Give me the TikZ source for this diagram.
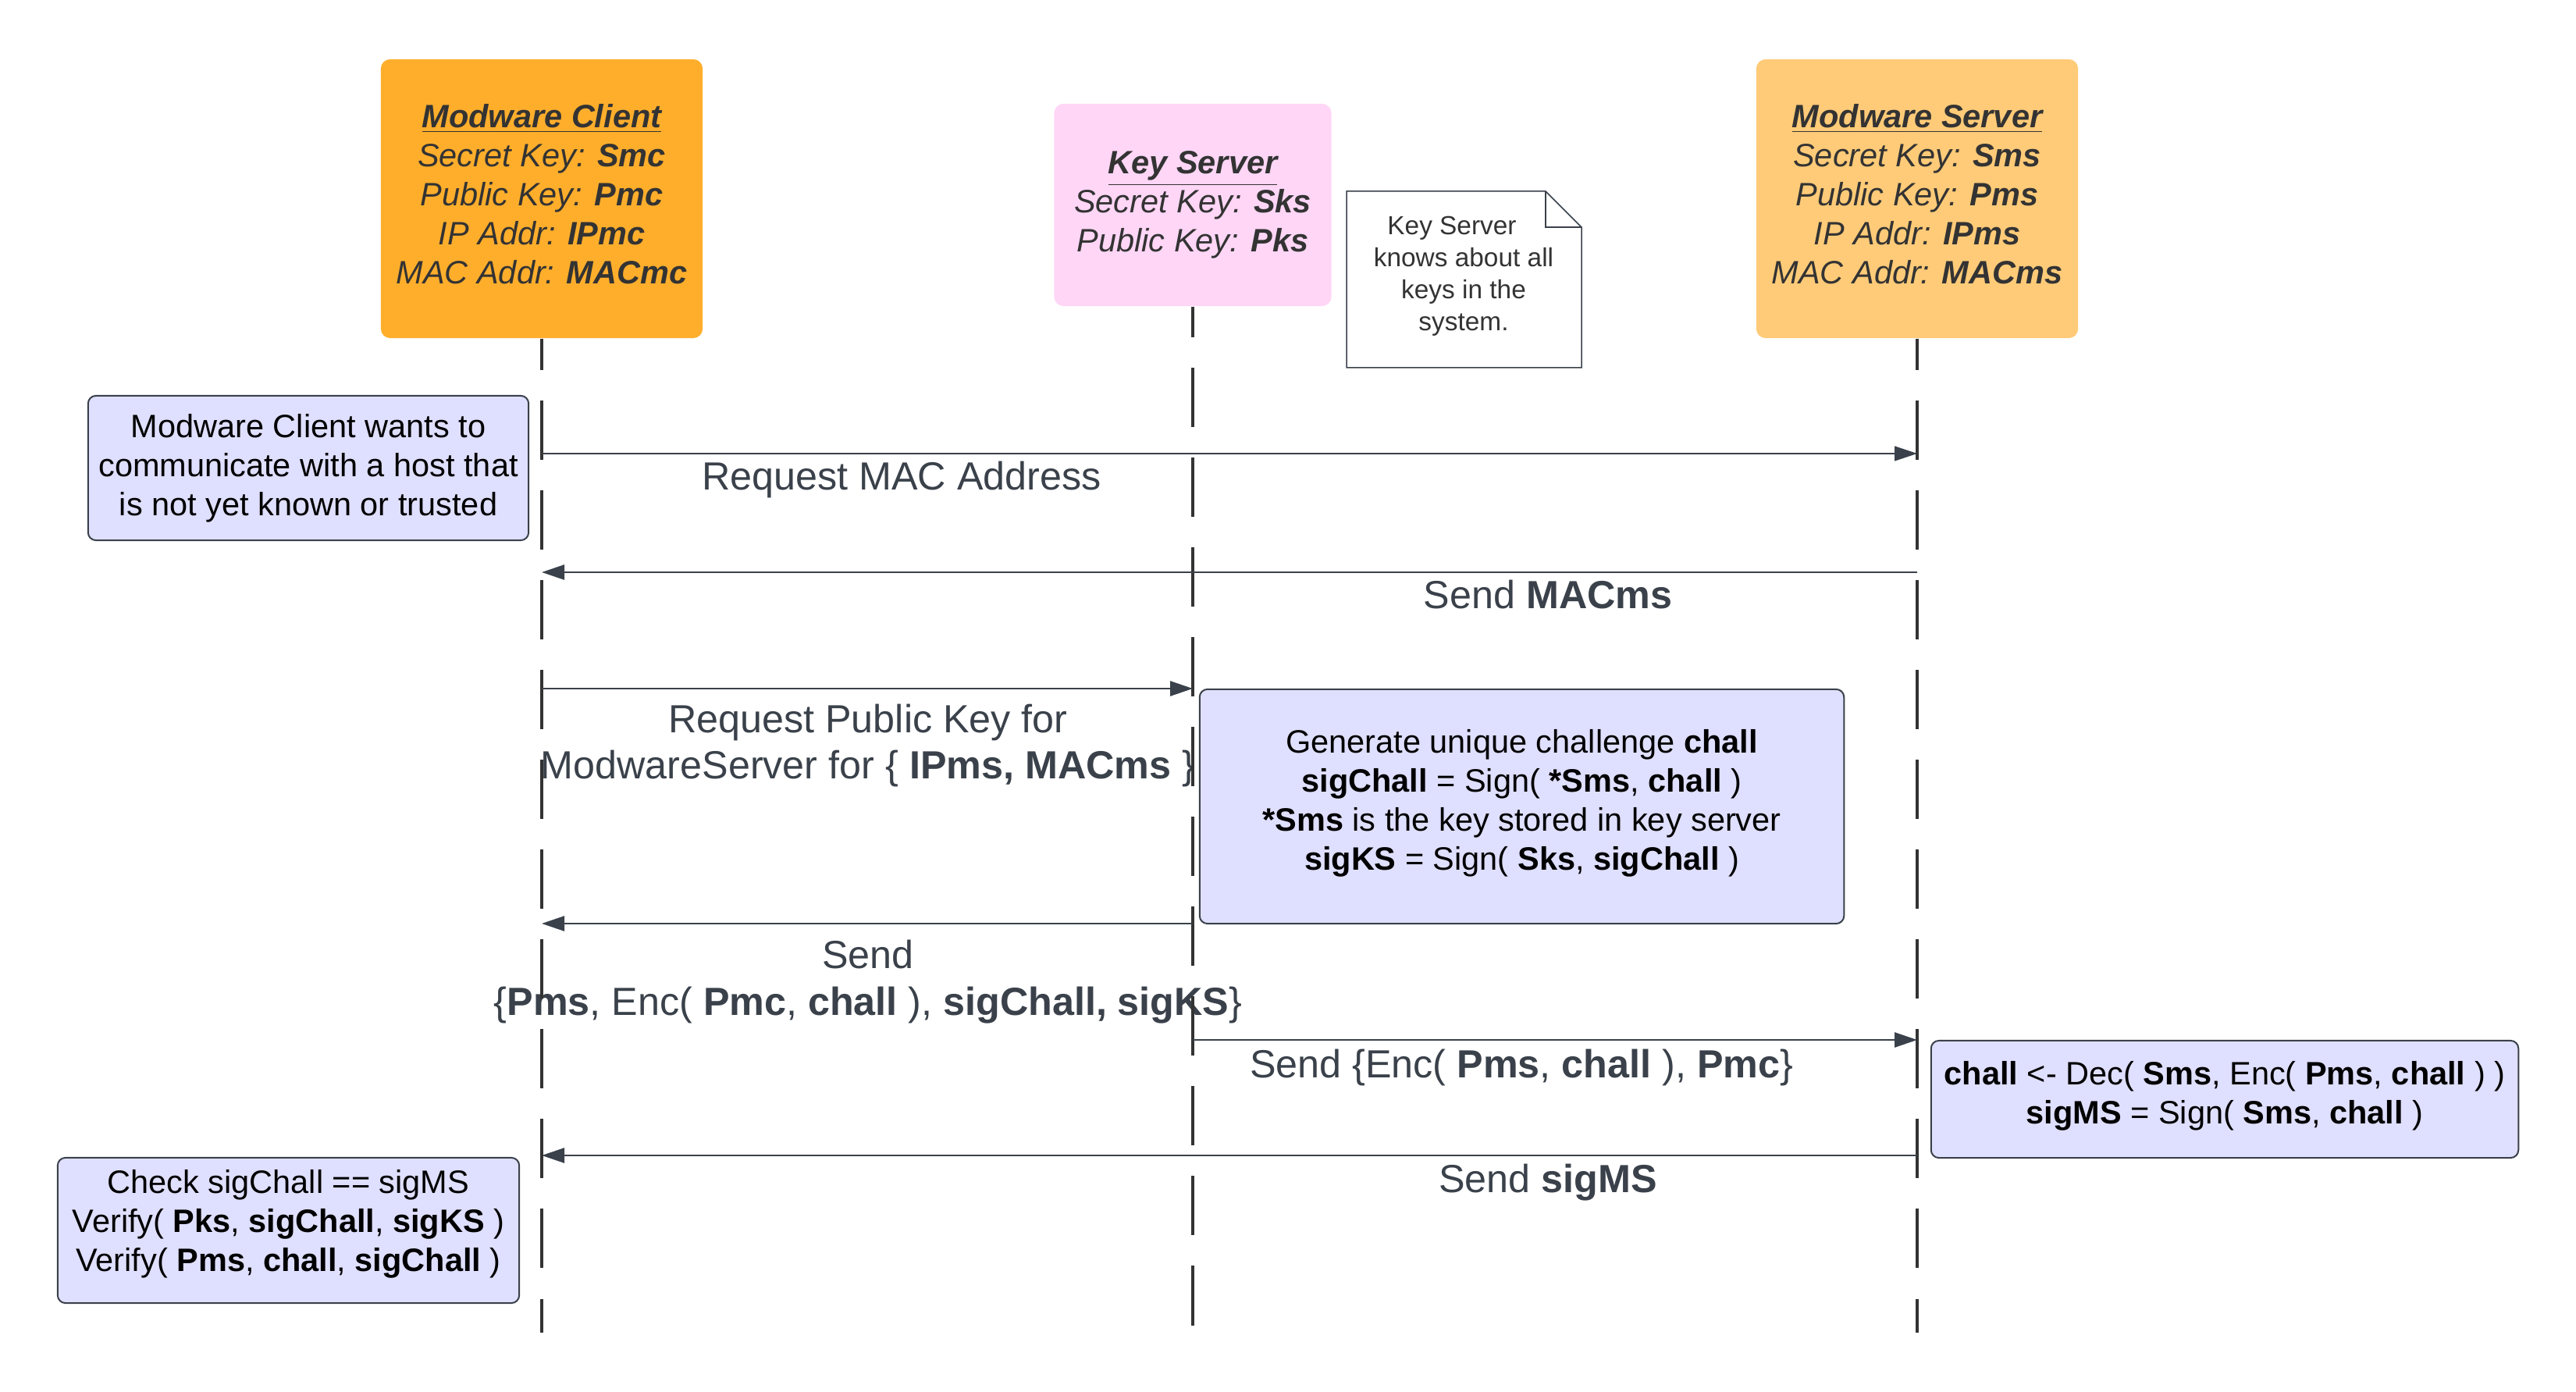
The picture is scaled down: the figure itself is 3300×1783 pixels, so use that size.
\documentclass[tikz,border=0pt]{standalone}
\usepackage{fontspec}
\setmainfont{Liberation Sans}
\usetikzlibrary{arrows.meta}
\definecolor{cliorange}{HTML}{FFAE2C}
\definecolor{srvorange}{HTML}{FFCB78}
\definecolor{kspink}{HTML}{FFD6F6}
\definecolor{lav}{HTML}{DFDFFF}
\definecolor{linec}{HTML}{3A414A}
\definecolor{textc}{HTML}{333333}
\newcommand\boxfnt{\fontsize{11.8}{14.2}\selectfont}
\newcommand\labfnt{\fontsize{14.3}{17}\selectfont}
\newcommand\notefnt{\fontsize{9.5}{11.6}\selectfont}
\begin{document}
\begin{tikzpicture}[x=0.01cm,y=-0.01cm,
  actor/.style={rounded corners=0.12cm, inner sep=0pt},
  actortxt/.style={inner sep=0pt, text=textc, align=center, font=\boxfnt\itshape},
  lbox/.style={draw=linec, line width=0.02cm, fill=lav, rounded corners=0.1cm, inner sep=0pt},
  lboxtxt/.style={align=center, font=\boxfnt, text=black, inner sep=0pt},
  lab/.style={text=linec, font=\labfnt, align=center, inner sep=0pt},
  life/.style={draw=textc, line width=0.035cm, dash pattern=on 0.76cm off 0.39cm},
  msg/.style={draw=linec, line width=0.025cm, -{Triangle[length=0.29cm,width=0.19cm]}},
  notetxt/.style={text=textc, font=\notefnt, align=center, inner sep=0pt}]
\useasboundingbox (0,0) rectangle (3300,1783);
\fill[white] (0,0) rectangle (3300,1783);

% actors
\node[actor, fill=cliorange, minimum width=4.12cm, minimum height=3.57cm] (client) at (694,254.5) {};
\node[actortxt] (clienttxt) at (694,248.5)
  {\underline{\textbf{Modware Client}}\\Secret Key: \textbf{Smc}\\Public Key: \textbf{Pmc}\\IP Addr: \textbf{IPmc}\\MAC Addr: \textbf{MACmc}};
\node[actor, fill=kspink, minimum width=3.55cm, minimum height=2.59cm] (ks) at (1528,262.5) {};
\node[actortxt] (kstxt) at (1528,262.5)
  {\underline{\textbf{Key Server}}\\Secret Key: \textbf{Sks}\\Public Key: \textbf{Pks}};
\node[actor, fill=srvorange, minimum width=4.12cm, minimum height=3.57cm] (server) at (2456,254.5) {};
\node[actortxt] (servertxt) at (2456,248.5)
  {\underline{\textbf{Modware Server}}\\Secret Key: \textbf{Sms}\\Public Key: \textbf{Pms}\\IP Addr: \textbf{IPms}\\MAC Addr: \textbf{MACms}};

% note
\draw[linec, line width=0.015cm, fill=white] (1725,245) -- (1980,245) -- (2026,291) -- (2026,471) -- (1725,471) -- cycle;
\draw[linec, line width=0.015cm] (1980,245) -- (1980,291) -- (2026,291);
\node[notetxt] (note) at (1875,354) {Key Server\hspace*{0.3cm}\\knows about all\\keys in the\\system.};

% message labels
\node[lab, anchor=base] (l1) at (1155,628) {Request MAC Address};
\node[lab, anchor=base] (l2) at (1983,780) {Send \textbf{MACms}};
\node[lab, anchor=base] (l3) at (1112,998) {Request Public Key for\\ModwareServer for \{ \textbf{IPms, MACms} \}};
\node[lab, anchor=base] (l4) at (1112,1300) {Send\\\{\textbf{Pms}, Enc( \textbf{Pmc}, \textbf{chall} ), \textbf{sigChall, sigKS}\}};
\node[lab, anchor=base] (l5) at (1949,1380) {Send \{Enc( \textbf{Pms}, \textbf{chall} ), \textbf{Pmc}\}};
\node[lab, anchor=base] (l6) at (1983,1527) {Send \textbf{sigMS}};

% lifelines
\coordinate (cend) at (694,1707);
\coordinate (kend) at (1528,1707);
\coordinate (send) at (2456,1707);
\draw[life, dash phase=0.36cm] (client.south) -- (cend);
\draw[life, dash phase=0.37cm] (ks.south) -- (kend);
\draw[life, dash phase=0.36cm] (server.south) -- (send);

% activity boxes
\node[lbox, minimum width=5.64cm, minimum height=1.85cm] (want) at (395,599.5) {};
\node[lboxtxt] (wanttxt) at (395,599.5)
  {Modware Client wants to\\communicate with a host that\\is not yet known or trusted};
\node[lbox, minimum width=8.25cm, minimum height=3.0cm] (gen) at (1949.5,1033) {};
\node[lboxtxt] (gentxt) at (1949.5,1029)
  {Generate unique challenge \textbf{chall}\\\textbf{sigChall} = Sign( \textbf{*Sms}, \textbf{chall} )\\\textbf{*Sms} is the key stored in key server\\\textbf{sigKS} = Sign( \textbf{Sks}, \textbf{sigChall} )};
\node[lbox, minimum width=7.52cm, minimum height=1.50cm] (dec) at (2850,1408) {};
\node[lboxtxt] (dectxt) at (2850,1404)
  {\textbf{chall} <- Dec( \textbf{Sms}, Enc( \textbf{Pms}, \textbf{chall} ) )\\\textbf{sigMS} = Sign( \textbf{Sms}, \textbf{chall} )};
\node[lbox, minimum width=5.91cm, minimum height=1.86cm] (check) at (369.5,1576) {};
\node[lboxtxt] (checktxt) at (369.5,1568)
  {Check sigChall == sigMS\\Verify( \textbf{Pks}, \textbf{sigChall}, \textbf{sigKS} )\\Verify( \textbf{Pms}, \textbf{chall}, \textbf{sigChall} )};

% message endpoints
\coordinate (c1) at (694,581);   \coordinate (s1) at (2456,581);
\coordinate (s2) at (2456,733);  \coordinate (c2) at (694,733);
\coordinate (c3) at (694,882);   \coordinate (k3) at (1528,882);
\coordinate (k4) at (1528,1183); \coordinate (c4) at (694,1183);
\coordinate (k5) at (1528,1332); \coordinate (s5) at (2456,1332);
\coordinate (s6) at (2456,1480); \coordinate (c6) at (694,1480);

\draw[msg, line width=0.012cm] (c1) -- (s1);
\draw[msg] (s2) -- (c2);
\draw[msg] (c3) -- (k3);
\draw[msg] (k4) -- (c4);
\draw[msg] (k5) -- (s5);
\draw[msg] (s6) -- (c6);
\end{tikzpicture}
\end{document}
